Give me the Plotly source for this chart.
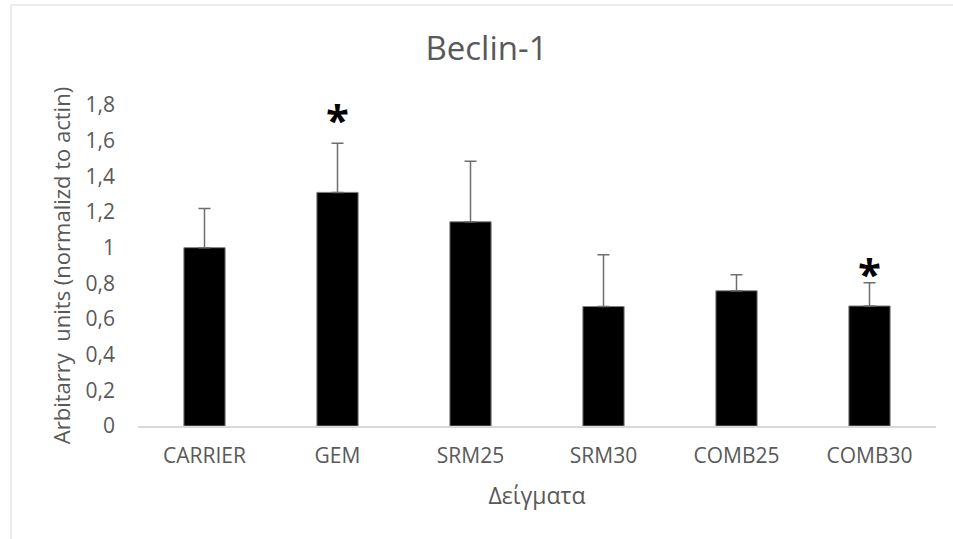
import plotly.graph_objects as go

categories = ["CARRIER", "GEM", "SRM25", "SRM30", "COMB25", "COMB30"]
values = [1.00, 1.31, 1.145, 0.67, 0.758, 0.673]
errors_plus = [0.22, 0.275, 0.34, 0.29, 0.09, 0.13]
star_labels = ["", "*", "", "", "", "*"]
star_y = [0, 1.744, 0, 0, 0, 0.883]
y_tick_vals = [0, 0.2, 0.4, 0.6, 0.8, 1.0, 1.2, 1.4, 1.6, 1.8]
y_tick_text = ["0", "0,2", "0,4", "0,6", "0,8", "1", "1,2", "1,4", "1,6", "1,8"]

FONT = "Open Sans"
TXT = "#595959"

fig = go.Figure()
fig.add_trace(go.Bar(
    x=categories, y=values,
    marker=dict(color="black", line=dict(color="#7f7f7f", width=1)),
    error_y=dict(type="data", symmetric=False, array=errors_plus,
                 arrayminus=[0] * len(values), color="#6e6e6e",
                 thickness=1.5, width=6),
    showlegend=False, hoverinfo="skip",
))

for c, s, yy in zip(categories, star_labels, star_y):
    if s:
        fig.add_annotation(x=c, y=yy, text="<b>" + s + "</b>", showarrow=False,
                           xanchor="center", yanchor="middle", yshift=-4,
                           font=dict(family=FONT, size=42, color="black"))

# light chart-area border (left and top edges)
fig.add_shape(type="line", xref="paper", yref="paper",
              x0=-0.1591, x1=1.03, y0=1.3118, y1=1.3118,
              line=dict(color="#e6e6e6", width=1.5))
fig.add_shape(type="line", xref="paper", yref="paper",
              x0=-0.1591, x1=-0.1591, y0=-0.4, y1=1.3118,
              line=dict(color="#e6e6e6", width=1.5))

fig.update_layout(
    width=953, height=539,
    margin=dict(l=138, r=17, t=105, b=113),
    paper_bgcolor="white", plot_bgcolor="white",
    bargap=0.69,
    font=dict(family=FONT, color=TXT),
    title=dict(text="Beclin-1", x=0.5105, xref="container", xanchor="center",
               y=1 - 48 / 539, yref="container", yanchor="middle",
               font=dict(family=FONT, size=33, color=TXT)),
    xaxis=dict(showgrid=False, showline=True, linecolor="#d9d9d9", linewidth=1.5,
               ticks="", tickfont=dict(family=FONT, size=21, color=TXT),
               ticklabelstandoff=10,
               title=dict(text="Δείγματα", font=dict(family=FONT, size=23, color=TXT),
                          standoff=20),
               zeroline=False),
    yaxis=dict(range=[0, 1.8], showgrid=False, showline=False, zeroline=False,
               tickvals=y_tick_vals, ticktext=y_tick_text, ticks="",
               tickfont=dict(family=FONT, size=21, color=TXT),
               ticklabelstandoff=22,
               title=dict(text="Arbitarry  units (normalizd to actin)",
                          font=dict(family=FONT, size=22, color=TXT), standoff=8)),
)

fig.write_html("out.html")
